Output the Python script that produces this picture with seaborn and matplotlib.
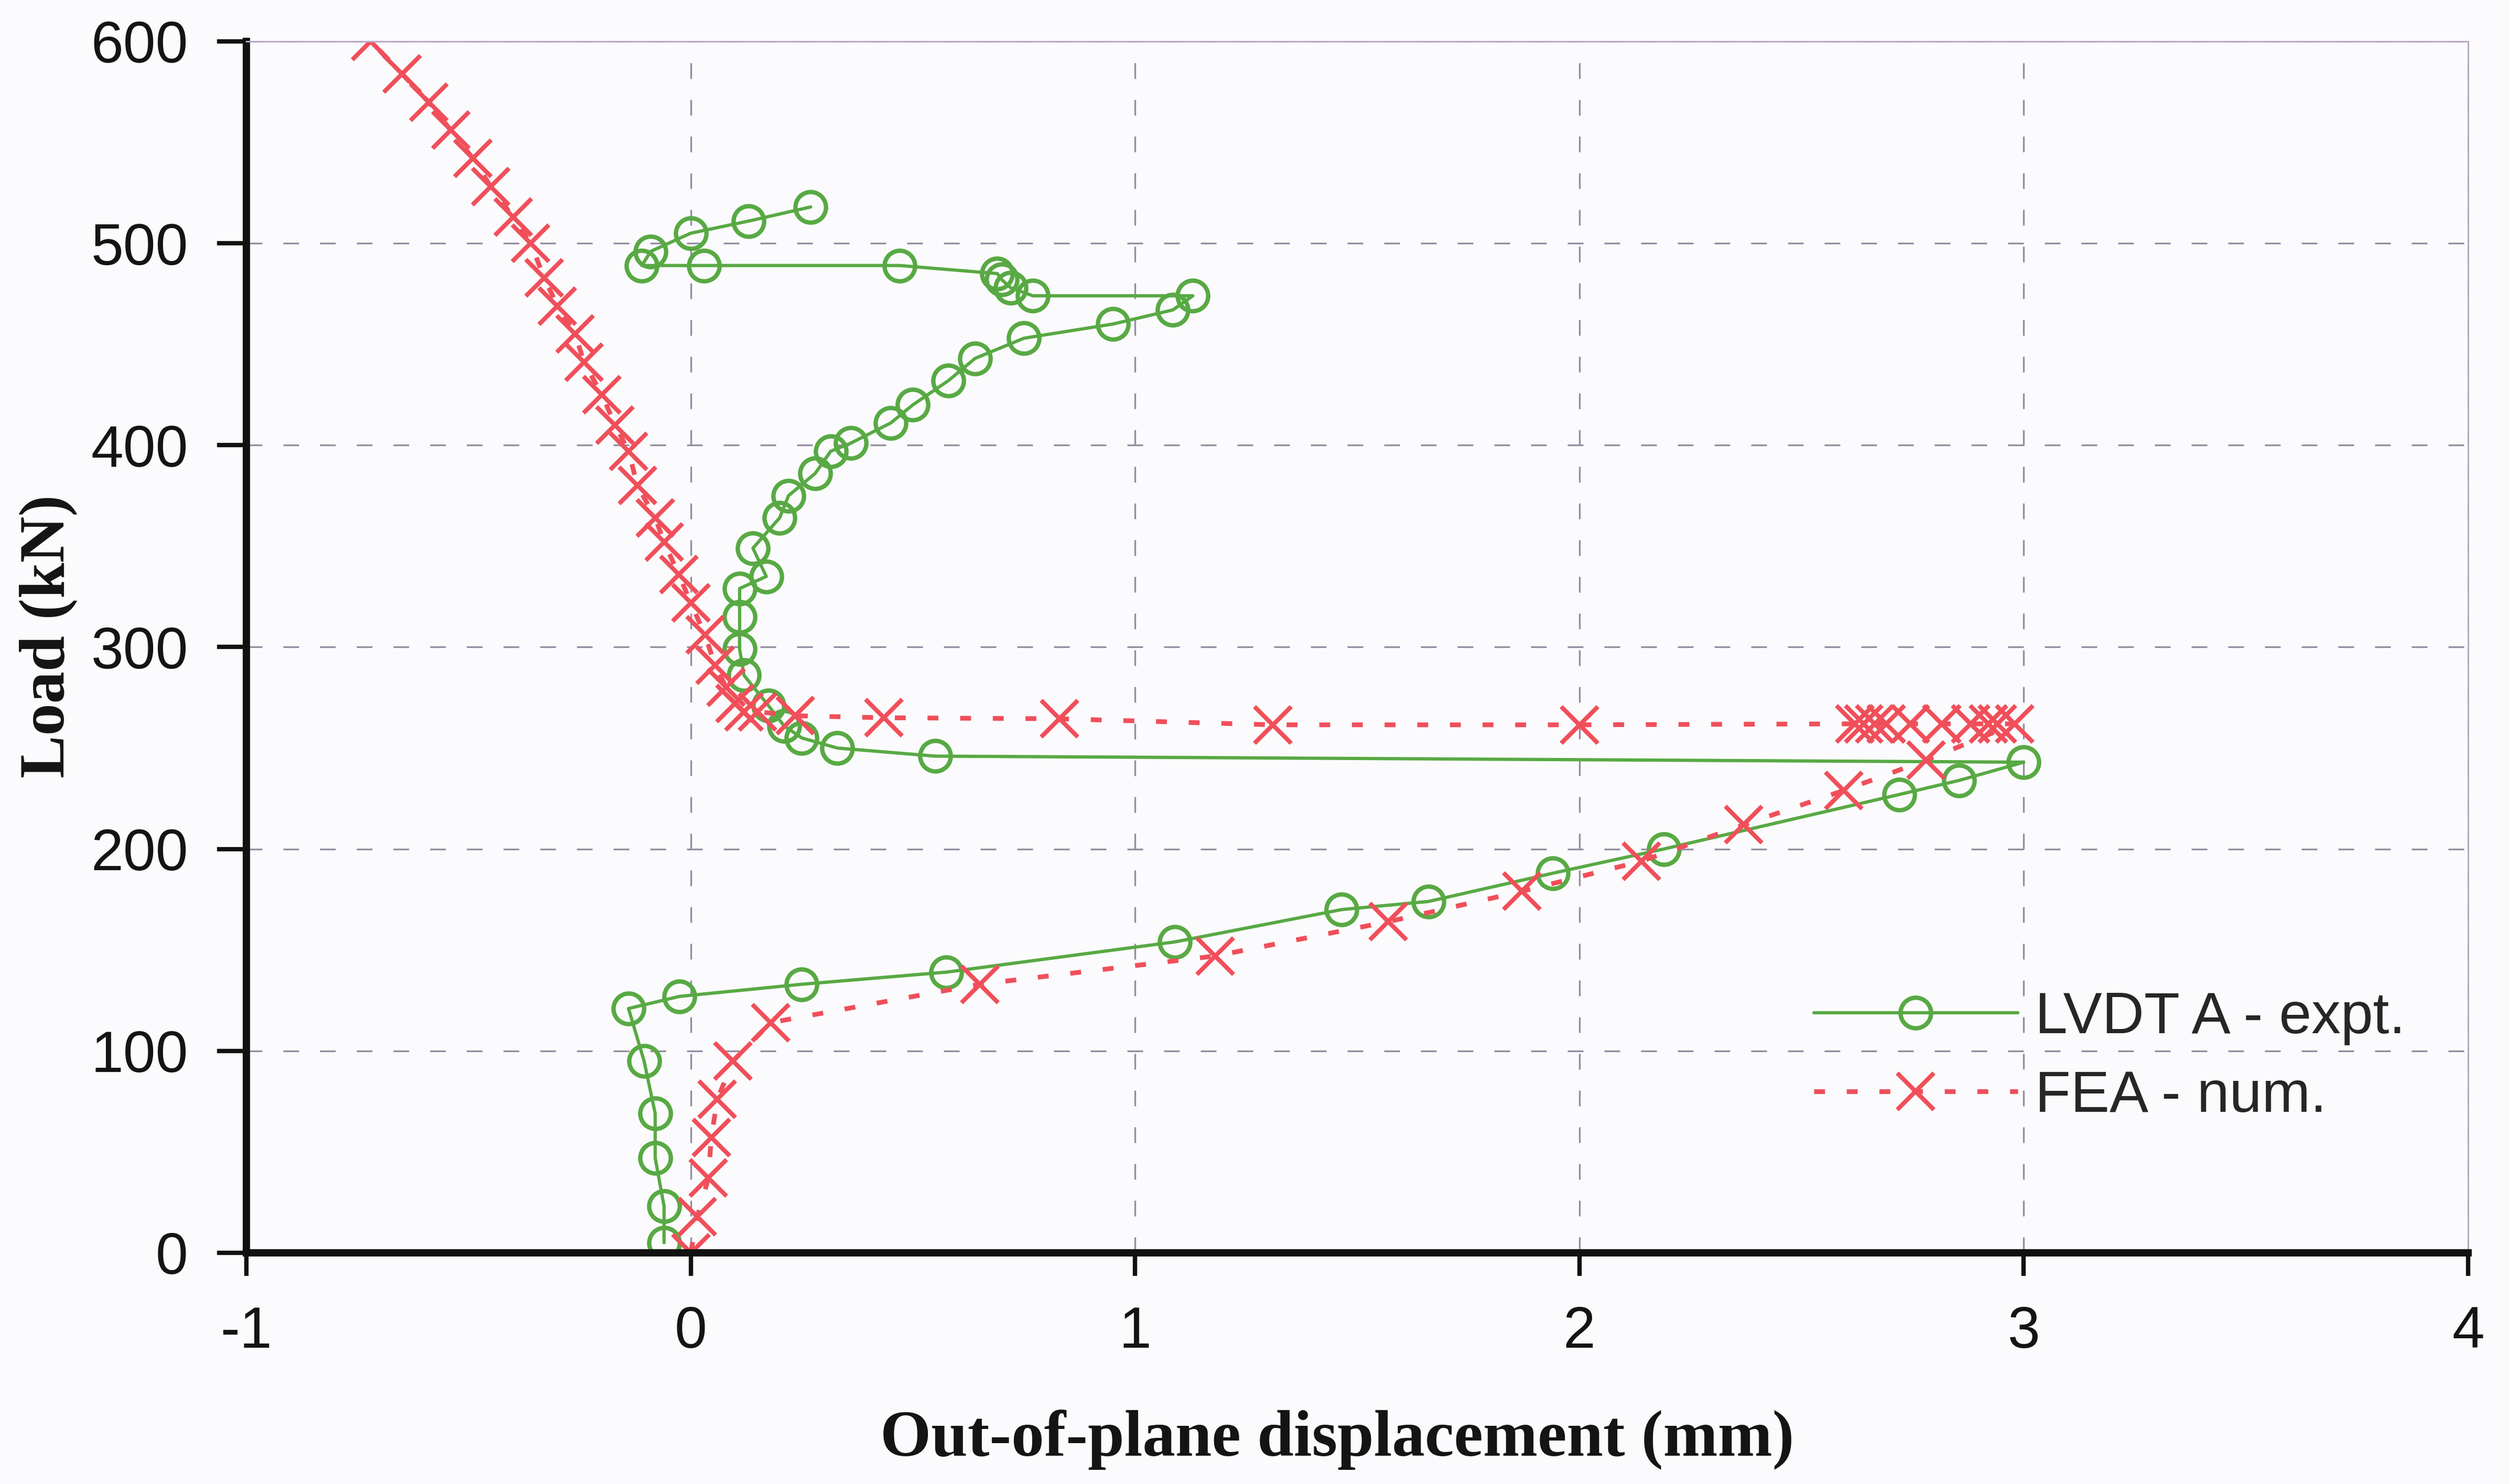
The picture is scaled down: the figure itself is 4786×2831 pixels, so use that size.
import matplotlib
matplotlib.use("Agg")
import matplotlib.pyplot as plt
import seaborn as sns

# LVDT A experimental load path (out-of-plane displacement in mm, load in kN)
expt_disp = [-0.06, -0.06, -0.08, -0.08, -0.105, -0.14, -0.025, 0.25, 0.575, 1.09,
             1.465, 1.66, 1.94, 2.19, 2.72, 2.855, 3.0, 0.55, 0.33, 0.25,
             0.21, 0.175, 0.12, 0.11, 0.11, 0.11, 0.17, 0.14, 0.20, 0.22,
             0.28, 0.315, 0.36, 0.45, 0.50, 0.58, 0.64, 0.75, 0.95, 1.085,
             1.13, 0.77, 0.72, 0.70, 0.69, 0.47, 0.03, -0.11, -0.09, 0.0,
             0.13, 0.27]
expt_load = [5, 23, 47, 69, 95, 121, 127, 133, 139, 154,
             170, 174, 188, 200, 227, 234, 243, 246, 250, 255,
             261, 271, 286, 299, 315, 329, 335, 349, 364, 375,
             386, 397, 401, 411, 420, 432, 443, 453, 460, 467,
             474, 474, 478, 482, 485, 489, 489, 489, 496, 505,
             511, 518]

# FEA numerical load path
fea_disp = [0.0, 0.015, 0.04, 0.046, 0.06, 0.095, 0.18,
            0.65, 1.18, 1.57, 1.87, 2.14, 2.37, 2.595, 2.78,
            2.98, 2.94, 2.92, 2.88, 2.815, 2.745, 2.69, 2.665, 2.64, 2.62,
            2.0, 1.31, 0.83, 0.435, 0.235,
            0.15, 0.12, 0.10, 0.08, 0.055, 0.032, 0.0,
            -0.027, -0.06, -0.08, -0.12, -0.14, -0.17, -0.20, -0.24, -0.26, -0.30,
            -0.33, -0.36, -0.40, -0.45, -0.49, -0.54, -0.59, -0.65, -0.72]
fea_load = [0, 18, 37, 57, 76, 95, 114,
            133, 147, 164, 179, 194, 212, 229, 244,
            262, 262, 262, 262, 262, 262, 262, 262, 262, 262,
            261.5, 261.5, 264.5, 265, 266,
            268, 268, 272, 280, 291, 306, 322,
            336, 352, 364, 380, 397, 410, 425, 441, 455, 469,
            483, 500, 513, 528, 542, 556, 570, 584, 600]

series_labels = ["LVDT A - expt.", "FEA - num."]
x_ticks = [-1, 0, 1, 2, 3, 4]
y_ticks = [0, 100, 200, 300, 400, 500, 600]
x_label = "Out-of-plane displacement (mm)"
y_label = "Load (kN)"

GREEN = "#58a944"
RED = "#f04f5a"
BG = "#fbfbfd"

sns.set_theme(style="white")
plt.rcParams["font.family"] = ["Liberation Sans", "DejaVu Sans"]

fig = plt.figure(figsize=(47.86, 28.31), dpi=100, facecolor=BG)
ax = fig.add_axes([0.0982, 0.1558, 0.8855, 0.8163])
ax.set_facecolor(BG)

sns.lineplot(x=expt_disp, y=expt_load, sort=False, estimator=None, ax=ax,
             color=GREEN, linewidth=4.5, marker="o", markersize=42,
             markerfacecolor="none", markeredgecolor=GREEN, markeredgewidth=6,
             label=series_labels[0])
sns.lineplot(x=fea_disp, y=fea_load, sort=False, estimator=None, ax=ax,
             color=RED, linewidth=6.5, linestyle=(0, (2.3, 4.6)),
             marker="x", markersize=50, markeredgecolor=RED, markeredgewidth=6,
             label=series_labels[1])

ax.set_xlim(-1, 4)
ax.set_ylim(0, 600)
ax.set_xticks(x_ticks)
ax.set_yticks(y_ticks)
ax.set_xticklabels([str(v) for v in x_ticks])
ax.set_yticklabels([str(v) for v in y_ticks])

ax.grid(True, color="#948ea3", linestyle=(0, (9, 12)), linewidth=2.4)
ax.set_axisbelow(True)

for side in ("left", "bottom"):
    ax.spines[side].set_color("#111111")
    ax.spines[side].set_linewidth(10)
for side in ("top", "right"):
    ax.spines[side].set_color("#b9a9c6")
    ax.spines[side].set_linewidth(2.2)

ax.tick_params(axis="both", which="major", direction="out", bottom=True, left=True,
               color="#111111", width=6, labelsize=80, labelcolor="#141414")
ax.tick_params(axis="x", length=32, pad=40)
ax.tick_params(axis="y", length=40, pad=40)

ax.set_xlabel(x_label, fontfamily="Liberation Serif", fontweight="bold",
              fontsize=90, color="#141414")
ax.set_ylabel(y_label, fontfamily="Liberation Serif", fontweight="bold",
              fontsize=88, color="#141414")
ax.xaxis.set_label_coords(0.491, -0.1545)
ax.xaxis.label.set_va("center")
ax.yaxis.set_label_coords(-0.0892, 0.509)
ax.yaxis.label.set_va("center")

handles, labels = ax.get_legend_handles_labels()
ax.legend(handles, labels, loc="center left",
          bbox_to_anchor=(3460 / 4786, 1 - 2017 / 2831),
          bbox_transform=fig.transFigure, frameon=False, fontsize=80,
          handlelength=3.5, handletextpad=0.3, labelspacing=0.42,
          borderpad=0, borderaxespad=0)

fig.savefig("out.png", dpi=100, facecolor=BG)
